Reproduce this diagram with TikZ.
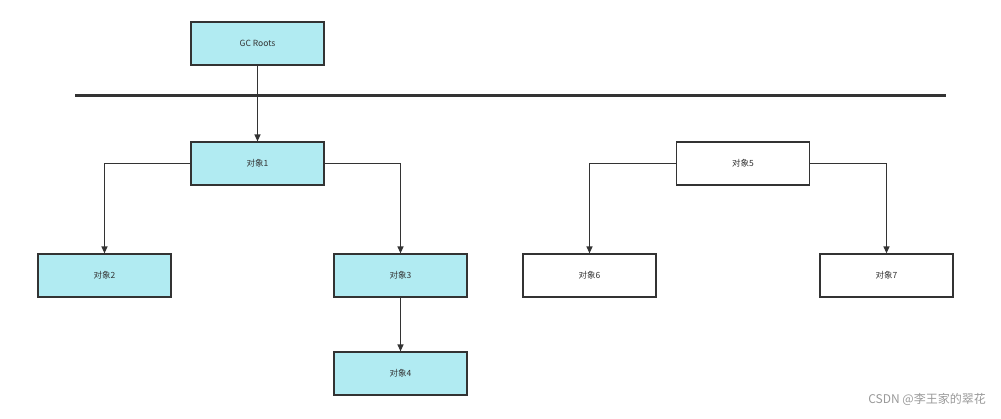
\documentclass[tikz,border=0pt]{standalone}
\usepackage{fontspec}
\setmainfont{Noto Sans CJK SC}
\usetikzlibrary{arrows.meta}
\definecolor{fillc}{HTML}{B1EBF2}
\definecolor{linec}{HTML}{333333}
\begin{document}
\begin{tikzpicture}[x=1pt,y=-1pt,
  box/.style={draw=linec,line width=1.2pt,minimum width=133pt,minimum height=43pt,inner sep=0pt,font=\fontsize{8.5}{10}\selectfont,text=linec},
  hl/.style={box,fill=fillc},
  wt/.style={box,fill=white},
  arr/.style={draw=linec,line width=1.2pt,-{Triangle[length=7pt,width=6pt]}}]
\useasboundingbox (0,0) rectangle (1001,418);
\node[hl] (gc) at (257.5,43.5) {GC Roots};
\node[hl] (o1) at (257.5,163.5) {对象1};
\node[hl] (o2) at (104.5,275.5) {对象2};
\node[hl] (o3) at (400.5,275.5) {对象3};
\node[hl] (o4) at (400.5,373.5) {对象4};
\node[wt] (o5) at (743,163.5) {对象5};
\node[wt] (o6) at (589.5,275.5) {对象6};
\node[wt] (o7) at (886.5,275.5) {对象7};
\coordinate (l1) at (75,95);
\coordinate (l2) at (946,95);
\draw[linec,line width=3pt] (l1) -- (l2);
\draw[arr] (gc) -- (o1);
\draw[arr] (o1.west) -| (o2.north);
\draw[arr] (o1.east) -| (o3.north);
\draw[arr] (o3) -- (o4);
\draw[arr] (o5.west) -| (o6.north);
\draw[arr] (o5.east) -| (o7.north);
\node[anchor=east,text=gray!80,font=\fontsize{12}{14}\selectfont,inner sep=0pt] (wm) at (986,399) {CSDN @李王家的翠花};
\end{tikzpicture}
\end{document}
